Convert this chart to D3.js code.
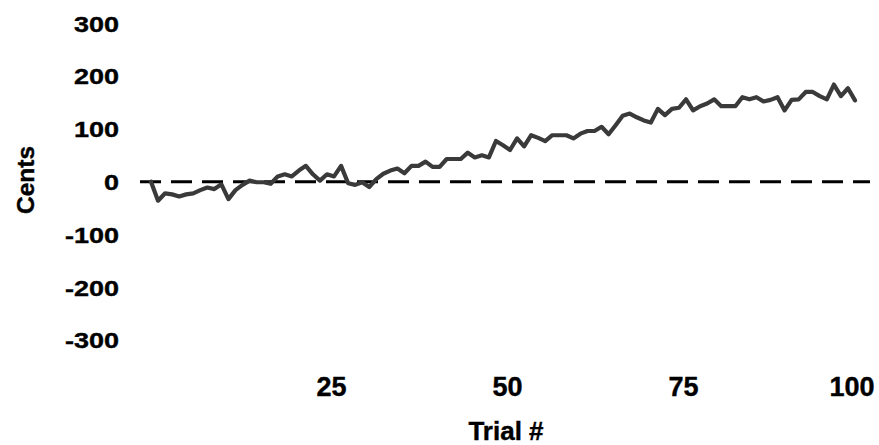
<!DOCTYPE html>
<html>
<head>
<meta charset="utf-8">
<script src="https://cdn.jsdelivr.net/npm/d3@7"></script>
<style>
  html, body { margin: 0; padding: 0; background: #fff; }
  svg { display: block; }
  text { font-family: "Liberation Sans", Arial, sans-serif; font-weight: bold; fill: #000; stroke: #000; stroke-width: 0.4px; }
</style>
</head>
<body>
<svg id="chart" width="879" height="445"></svg>
<script>
// Pitch shift (cents) per trial, trial 0 = baseline
const cents = [
  0, -36, -22, -24, -28, -24, -22, -16, -11, -14,
  -5, -33, -16, -6, 2, -1, -1, -4, 10, 14,
  10, 21, 30, 14, 2, 14, 10, 30, -3, -6,
  -1, -10, 5, 15, 21, 25, 16, 30, 30, 38,
  28, 28, 43, 43, 43, 55, 46, 50, 46, 77,
  69, 60, 82, 67, 88, 83, 77, 88, 88, 88,
  82, 91, 96, 96, 104, 90, 107, 125, 129, 122,
  116, 112, 138, 126, 138, 140, 156, 135, 143, 148,
  156, 143, 143, 143, 160, 156, 160, 152, 155, 160,
  135, 155, 156, 170, 170, 162, 156, 184, 162, 177,
  154
];
const xTicks = [25, 50, 75, 100];
const yTicks = [300, 200, 100, 0, -100, -200, -300];
const xTitle = "Trial #";
const yTitle = "Cents";

const svg = d3.select("#chart");

const x = d3.scaleLinear().domain([0, 100]).range([151, 855]);
const y = d3.scaleLinear().domain([-300, 300]).range([340.1, 23.3]);

// Y tick labels (no axis line), slightly widened bold digits
svg.append("g").selectAll("text")
  .data(yTicks)
  .join("text")
  .attr("text-anchor", "end")
  .attr("font-size", 22.5)
  .attr("transform", d => `translate(119, ${y(d) + 8.3}) scale(1.2, 1)`)
  .text(d => d);

// X tick labels
svg.append("g").selectAll("text")
  .data(xTicks)
  .join("text")
  .attr("text-anchor", "end")
  .attr("font-size", 27)
  .attr("x", d => x(d) + 19.5)
  .attr("y", 395.5)
  .text(d => d);

// Axis titles
svg.append("text")
  .attr("text-anchor", "middle")
  .attr("font-size", 26)
  .attr("x", 506)
  .attr("y", 439.5)
  .text(xTitle);

svg.append("text")
  .attr("text-anchor", "middle")
  .attr("font-size", 24.5)
  .attr("transform", `translate(34, 180) rotate(-90)`)
  .text(yTitle);

// Zero reference line
svg.append("line")
  .attr("x1", 140)
  .attr("x2", 870)
  .attr("y1", y(0))
  .attr("y2", y(0))
  .attr("stroke", "#000")
  .attr("stroke-width", 3)
  .attr("stroke-dasharray", "21,10");

// Data line
const line = d3.line()
  .x((d, i) => x(i))
  .y(d => y(d));

svg.append("path")
  .datum(cents)
  .attr("d", line)
  .attr("fill", "none")
  .attr("stroke", "#3a3a3a")
  .attr("stroke-width", 4.2)
  .attr("stroke-linejoin", "round")
  .attr("stroke-linecap", "round");
</script>
</body>
</html>
